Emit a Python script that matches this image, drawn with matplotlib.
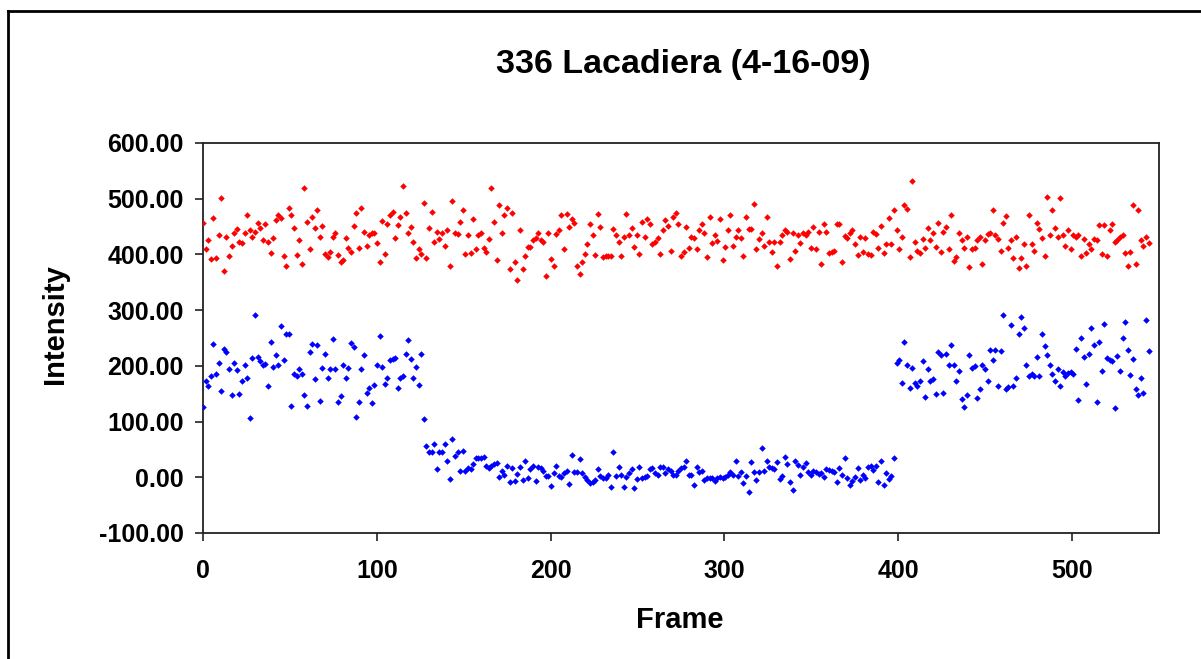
import numpy as np
import matplotlib
matplotlib.use("Agg")
import matplotlib.pyplot as plt
from matplotlib.ticker import FormatStrFormatter

# intensity values, frames run 0..544
red_vals = [
    457, 409, 426, 392, 466, 394, 434, 502, 370, 431, 398, 415, 438, 446, 422, 420,
    438, 471, 444, 431, 441, 457, 447, 426, 454, 422, 402, 429, 462, 470, 466, 398,
    379, 484, 471, 447, 399, 425, 383, 519, 458, 409, 467, 447, 479, 431, 451, 400,
    395, 405, 432, 438, 399, 387, 390, 429, 411, 405, 451, 474, 412, 483, 440,
    415, 434, 438, 438, 420, 386, 460, 400, 455, 470, 476, 429, 452, 467, 522, 474,
    438, 449, 423, 393, 409, 401, 492, 393, 447, 476, 422, 441, 428, 438, 416, 443,
    379, 496, 438, 437, 458, 480, 401, 435, 403, 463, 409, 435, 438, 411, 404, 428,
    519, 459, 390, 488, 438, 471, 483, 374, 474, 386, 355, 444, 374, 397, 413,
    414, 426, 429, 438, 426, 422, 361, 438, 392, 380, 437, 444, 471, 409, 473, 450,
    464, 457, 380, 364, 386, 401, 418, 454, 435, 399, 473, 450, 396, 398, 398, 397,
    445, 434, 422, 398, 431, 473, 435, 447, 414, 435, 401, 458, 432, 464, 455, 418,
    423, 429, 400, 444, 461, 451, 406, 468, 474, 455, 398, 405, 449, 411, 431, 430,
    410, 443, 455, 438, 396, 468, 421, 435, 424, 463, 390, 414, 444, 470, 416, 431,
    444, 429, 398, 467, 446, 446, 490, 410, 428, 438, 416, 467, 422, 404, 422, 379,
    422, 435, 443, 441, 392, 438, 406, 435, 420, 438, 435, 440, 412, 449, 410, 440,
    383, 454, 441, 402, 405, 407, 454, 454, 387, 433, 429, 438, 443, 419, 399, 431,
    405, 429, 401, 399, 440, 436, 412, 451, 402, 418, 465, 418, 479, 444, 409, 431,
    489, 482, 395, 532, 422, 407, 402, 428, 411, 447, 425, 438, 413, 456, 405, 441,
    449, 409, 470, 389, 396, 438, 426, 412, 431, 377, 409, 411, 426, 431, 383, 425,
    437, 439, 479, 434, 428, 406, 456, 469, 411, 425, 394, 432, 376, 394, 419,
    380, 471, 419, 406, 457, 445, 429, 398, 503, 434, 479, 447, 431, 502, 434, 415,
    444, 409, 434, 431, 434, 398, 428, 402, 418, 409, 428, 425, 452, 400, 452, 398,
    443, 455, 422, 426, 432, 434, 402, 380, 404, 488, 383, 479, 425, 416, 432, 420,
]

blue_vals = [
    126, 172, 164, 181, 240, 185, 205, 154, 230, 224, 194, 148, 206, 192, 150, 172,
    202, 178, 106, 214, 292, 216, 208, 201, 203, 164, 243, 198, 219, 201, 272, 211,
    257, 258, 128, 185, 182, 195, 186, 148, 128, 225, 240, 176, 237, 137, 197, 221,
    179, 194, 249, 195, 135, 146, 202, 178, 197, 241, 234, 108, 136, 194, 219,
    152, 160, 134, 166, 201, 254, 198, 167, 179, 210, 212, 214, 161, 178, 182, 222,
    247, 212, 178, 198, 165, 222, 105, 56, 45, 46, 59, 15, 45, 46, 60, 29,
    -3, 69, 39, 46, 11, 48, 11, 17, 15, 24, 34, 35, 35, 36, 20, 17,
    20, 23, 26, 0, 12, 5, 20, -9, 17, -6, 6, 18, -5, 29, -2,
    14, 20, -7, 18, 16, 12, 2, 2, -15, 7, 21, 2, 1, 7, 12, -12,
    40, 9, 9, 32, 7, 1, -5, -11, -8, -4, 14, 2, -2, -2, 5, -17,
    46, 2, 18, 4, -17, 0, 8, 14, -20, -3, 18, -2, 0, 3, 15, 16,
    8, 4, 18, 18, 7, 15, 11, 5, 5, 11, 16, 19, 30, 4, 4, -13,
    18, 10, 11, -5, -2, -2, -2, -6, -1, 1, -2, 1, 5, 10, 4, 29,
    3, 10, -10, 2, -26, 27, 9, -4, 9, 53, 11, 30, 18, 17, 15, 28,
    -3, 2, 37, 24, -9, -23, 30, 22, 5, 19, 26, 9, 4, 12, 10, 6,
    7, 0, 14, 13, 11, 10, -8, 17, 5, 34, -1, -14, -6, 1, 17, -5,
    5, -2, 19, 20, 13, 21, -8, 29, -14, 7, -3, 2, 34,
    206, 210, 169, 243, 201, 160, 196, 170, 164, 172, 209, 144, 194, 173, 176, 149,
    225, 219, 151, 222, 201, 237, 202, 173, 190, 141, 127, 148, 219, 197, 199, 142,
    159, 202, 194, 173, 228, 210, 228, 163, 227, 291, 158, 162, 273, 164, 179, 257,
    288, 268,
    201, 181, 186, 182, 216, 182, 257, 236, 219, 202, 185, 172, 194, 164, 189, 181,
    188, 189, 185, 230, 139, 250, 216, 167, 222, 268, 237, 135, 243, 190, 275, 214,
    211, 209, 124, 218, 190, 250, 278, 228, 183, 212, 158, 147, 178, 151, 283, 227,
]

first_frame = 0
last_frame = 544
frames_red = np.linspace(first_frame, last_frame, len(red_vals))
frames_blue = np.linspace(first_frame, last_frame, len(blue_vals))

x_ticks = [0, 100, 200, 300, 400, 500]
y_ticks = [-100, 0, 100, 200, 300, 400, 500, 600]

plt.rcParams['font.family'] = ['Liberation Sans', 'DejaVu Sans']
plt.rcParams['font.weight'] = 'bold'

fig = plt.figure(figsize=(12.01, 6.59), dpi=100)
ax = fig.add_axes([203/1201, 1-533/659, (1159-203)/1201, (533-143)/659])

ax.scatter(frames_red, red_vals, marker='D', s=11, color='#ff0000', linewidths=0, zorder=3)
ax.scatter(frames_blue, blue_vals, marker='D', s=11, color='#0000ff', linewidths=0, zorder=3)

ax.set_xlim(0, 550)
ax.set_ylim(-100, 600)
ax.set_xticks(x_ticks)
ax.set_yticks(y_ticks)
ax.yaxis.set_major_formatter(FormatStrFormatter('%.2f'))
ax.tick_params(axis='both', direction='out', length=6, width=1.2, labelsize=18, color='#222222')
ax.tick_params(axis='x', pad=13)
ax.tick_params(axis='y', pad=8)
for s in ax.spines.values():
    s.set_linewidth(1.3)
    s.set_color('#222222')

fig.text(683/1201, 1-65/659, '336 Lacadiera (4-16-09)', ha='center', va='center',
         fontsize=24.5, fontweight='bold')
fig.text(680/1201, 1-620/659, 'Frame', ha='center', va='center', fontsize=21, fontweight='bold')
fig.text(55/1201, 1-324/659, 'Intensity', ha='center', va='center', rotation=90,
         fontsize=21, fontweight='bold')

# outer chart border (open to the right and bottom)
fig.add_artist(plt.Line2D([8/1201, 8/1201], [1-11/659, 0], color='black', lw=2))
fig.add_artist(plt.Line2D([8/1201, 1], [1-11/659, 1-11/659], color='black', lw=2))

fig.savefig('out.png', dpi=100)
